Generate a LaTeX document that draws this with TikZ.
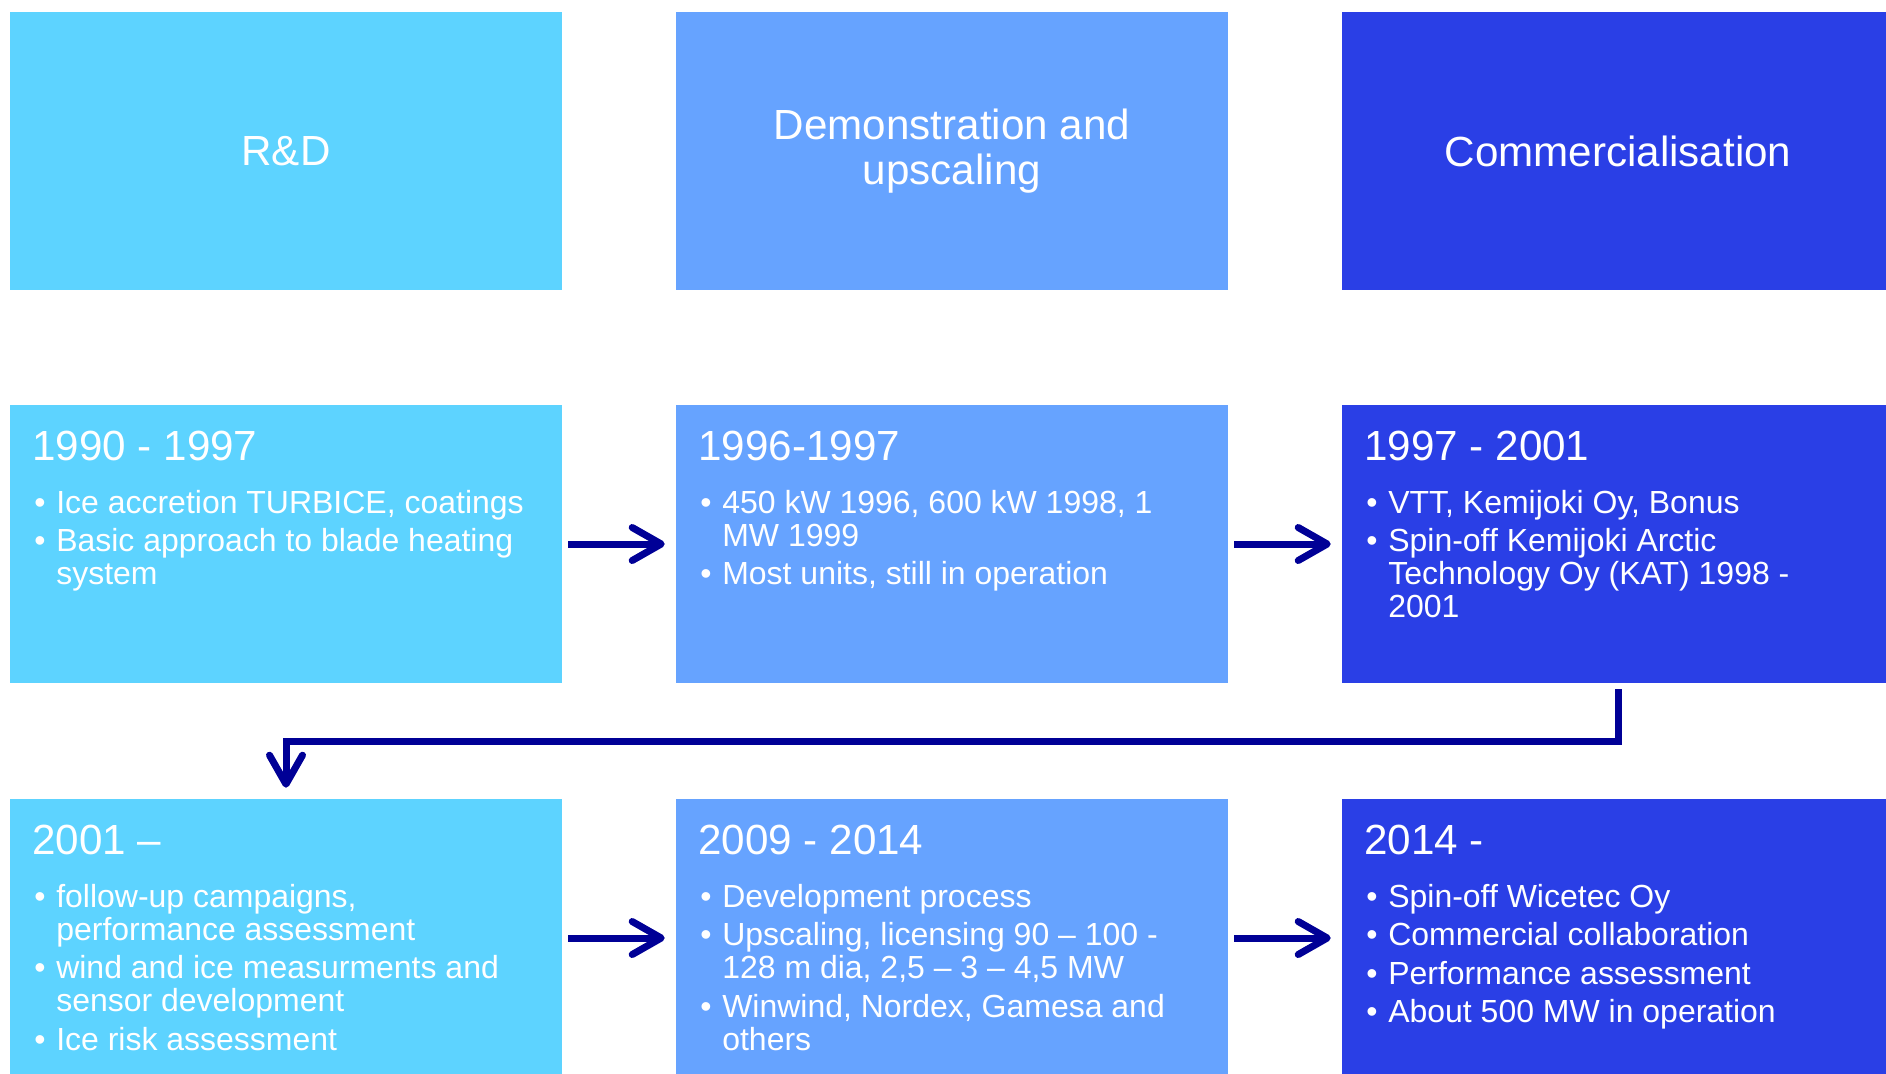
\documentclass[tikz,border=0pt]{standalone}
\usepackage{fontspec}
\setmainfont{Liberation Sans}
\usetikzlibrary{arrows.meta}
\definecolor{rdcyan}{RGB}{93,211,255}
\definecolor{demoblue}{RGB}{102,163,255}
\definecolor{commblue}{RGB}{42,63,230}
\definecolor{arrownavy}{RGB}{0,0,150}

\begin{document}
\begin{tikzpicture}[x=0.02cm,y=-0.02cm,
	>={Straight Barb[length=0.58cm,width=0.66cm,round]},
	box/.style={rectangle,minimum width=11.04cm,minimum height=5.56cm,inner sep=0pt,text=white},
	head/.style={box,font=\fontsize{24}{25.5}\selectfont,align=center},
	period/.style={anchor=base west,inner sep=0pt,text=white,font=\fontsize{24}{25}\selectfont},
	items/.style={anchor=base west,inner sep=0pt,text=white,font=\fontsize{18.2}{18.8}\selectfont},
	flow/.style={->,draw=arrownavy,line width=0.14cm,shorten <=0.12cm,shorten >=0.22cm}]
	  \useasboundingbox (0,0) rectangle (1886,1073);
	  \clip (0,0) rectangle (1886,1073);
	  % phase headers
	  \node[head,fill=rdcyan] (rd) at (286,151) {R\&D};
	  \node[head,fill=demoblue] (demo) at (952,151) {Demonstration and\\upscaling};
	  \node[head,fill=commblue] (comm) at (1618,151) {Commercialisation};
	  % period boxes
	  \node[box,fill=rdcyan] (p1) at (286,544) {};
	  \node[box,fill=demoblue] (p2) at (952,544) {};
	  \node[box,fill=commblue] (p3) at (1618,544) {};
	  \node[box,fill=rdcyan] (p4) at (286,938) {};
	  \node[box,fill=demoblue] (p5) at (952,938) {};
	  \node[box,fill=commblue] (p6) at (1618,938) {};
	  % years
	  \node[period] (d1) at (32,460) {1990 - 1997};
	  \node[period] (d2) at (698,460) {1996-1997};
	  \node[period] (d3) at (1364,460) {1997 - 2001};
	  \node[period] (d4) at (32,854) {2001 –};
	  \node[period] (d5) at (698,854) {2009 - 2014};
	  \node[period] (d6) at (1364,854) {2014 -};
	  % bullet lists
	  \node[items] (l1) at (34,513) {\begin{tabular}[t]{@{}p{12.5pt}@{}l@{}}
	    \textbullet & Ice accretion TURBICE, coatings\\[3.1pt]
	    \textbullet & Basic approach to blade heating\\
	    & system
	  \end{tabular}};
	  \node[items] (l2) at (700,513) {\begin{tabular}[t]{@{}p{12.5pt}@{}l@{}}
	    \textbullet & 450 kW 1996, 600 kW 1998, 1\\
	    & MW 1999\\[3.1pt]
	    \textbullet & Most units, still in operation
	  \end{tabular}};
	  \node[items] (l3) at (1366,513) {\begin{tabular}[t]{@{}p{12.5pt}@{}l@{}}
	    \textbullet & VTT, Kemijoki Oy, Bonus\\[3.1pt]
	    \textbullet & Spin-off Kemijoki Arctic\\
	    & Technology Oy (KAT) 1998 -\\
	    & 2001
	  \end{tabular}};
	  \node[items] (l4) at (34,907) {\begin{tabular}[t]{@{}p{12.5pt}@{}l@{}}
	    \textbullet & follow-up campaigns,\\
	    & performance assessment\\[3.1pt]
	    \textbullet & wind and ice measurments and\\
	    & sensor development\\[3.1pt]
	    \textbullet & Ice risk assessment
	  \end{tabular}};
	  \node[items] (l5) at (700,907) {\begin{tabular}[t]{@{}p{12.5pt}@{}l@{}}
	    \textbullet & Development process\\[3.1pt]
	    \textbullet & Upscaling, licensing 90 – 100 -\\
	    & 128 m dia, 2,5 – 3 – 4,5 MW\\[3.1pt]
	    \textbullet & Winwind, Nordex, Gamesa and\\
	    & others
	  \end{tabular}};
	  \node[items] (l6) at (1366,907) {\begin{tabular}[t]{@{}p{12.5pt}@{}l@{}}
	    \textbullet & Spin-off Wicetec Oy\\[3.1pt]
	    \textbullet & Commercial collaboration\\[3.1pt]
	    \textbullet & Performance assessment\\[3.1pt]
	    \textbullet & About 500 MW in operation
	  \end{tabular}};
	  % flow between periods
	  \draw[flow] (p1) -- (p2);
	  \draw[flow] (p2) -- (p3);
	  \draw[flow] (p3.south) -- ++(0,58) -| (p4.north);
	  \draw[flow] (p4) -- (p5);
	  \draw[flow] (p5) -- (p6);
	\end{tikzpicture}
\end{document}
